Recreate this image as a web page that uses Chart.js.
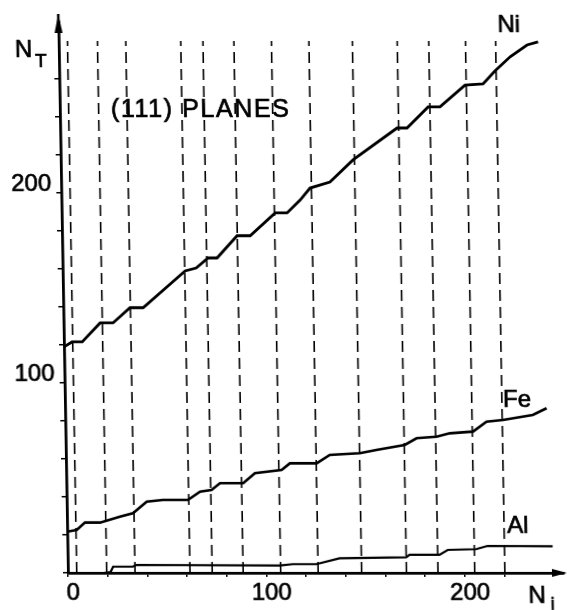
<!DOCTYPE html>
<html>
<head>
<meta charset="utf-8">
<script src="https://cdn.jsdelivr.net/npm/chart.js@4.4.0/dist/chart.umd.min.js"></script>
<style>
  html, body { margin: 0; padding: 0; background: #fff; }
  /* the scanned figure leans slightly: its verticals tilt about 1 degree */
  #wrap { position: relative; width: 567px; height: 610px; transform: skewX(1deg); transform-origin: 68px 573px; }
</style>
</head>
<body>
<div id="wrap"><canvas id="planesChart"></canvas></div>
<script>
// N_T against N_i, (111) planes
const planes = [4.4, 19.5, 33.8, 61.5, 72.7, 88.3, 107.2, 126.1, 148, 170.6, 186.5, 205, 220.2];
const planeTop = 280;

const niX = [0, 4.1, 9.2, 18.4, 24.9, 33.6, 40.2, 61.7, 67.3, 73.4, 77.9, 88.2, 94.8, 107.6, 113.6, 120.3, 125.4, 135.5, 147.3, 169.8, 174.8, 185.6, 191.6, 204.4, 213.5, 219.6, 227.4, 236, 241.6];
const niY = [119, 121.6, 121.6, 131.6, 131.6, 139.6, 139.6, 159, 160.5, 165.8, 165.8, 177.5, 177.5, 189.5, 189.5, 196.3, 202.6, 205.8, 217.4, 234.2, 234.2, 245.3, 245.3, 256.8, 257.4, 264.2, 271.7, 277.9, 279.5];

const feX = [0, 4.8, 9.0, 16.6, 26.7, 33.3, 40.3, 48.5, 61.1, 67.3, 73.1, 77.4, 89.1, 95.1, 108.6, 112.8, 126.3, 133, 148.2, 156.6, 170.9, 176.9, 187, 193.7, 205.4, 212.3, 220.7, 235.7, 242.7];
const feY = [21.7, 22.6, 26.5, 26.5, 29.6, 31.4, 37.5, 38.4, 38.4, 42.8, 43.7, 47.2, 47.2, 52.5, 54.2, 57.7, 57.7, 62.1, 63, 64.7, 67.4, 70.9, 71.7, 73.5, 74.4, 79.6, 80.5, 83.2, 86.7];

const alX = [18, 21.5, 22.8, 32.7, 34.6, 106.8, 113.4, 125.3, 137, 170.6, 172.3, 187.4, 191.6, 205.9, 211.7, 244.5];
const alY = [0, 0.5, 3.3, 3.3, 4.2, 3.9, 4.6, 4.6, 7.7, 8.2, 9.5, 9.5, 12.1, 12.5, 14.2, 14];

const xTickLabels = [0, 100, 200];
const yTickLabels = [100, 200];

function pts(xs, ys) { return xs.map((x, i) => ({ x: x, y: ys[i] })); }

const planeLines = [];
planes.forEach(p => planeLines.push({ x: p, y: 0 }, { x: p, y: planeTop }, { x: p, y: null }));

const curve = (data, w) => ({
  data: data, borderColor: '#000', borderWidth: w, pointRadius: 0, tension: 0, fill: false
});

// arrow heads and the hand-lettered labels of the figure
const figureLabels = {
  id: 'figureLabels',
  afterDraw(chart) {
    const { ctx, chartArea: a } = chart;
    ctx.save();
    ctx.fillStyle = '#000';
    ctx.strokeStyle = '#000';
    ctx.lineWidth = 2.5;
    ctx.beginPath(); ctx.moveTo(a.left, a.top + 1); ctx.lineTo(a.left, a.top - 8); ctx.stroke();
    ctx.beginPath(); ctx.moveTo(a.left, a.top - 8); ctx.lineTo(a.left - 4, a.top + 11); ctx.lineTo(a.left + 4, a.top + 11); ctx.closePath(); ctx.fill();
    ctx.beginPath(); ctx.moveTo(a.right + 3, a.bottom); ctx.lineTo(a.right - 12, a.bottom - 4); ctx.lineTo(a.right - 12, a.bottom + 4); ctx.closePath(); ctx.fill();

    const put = (txt, x, y) => { ctx.fillText(txt, x, y); ctx.strokeText(txt, x, y); };
    ctx.lineWidth = 0.7;
    ctx.textBaseline = 'alphabetic';
    ctx.textAlign = 'left';
    ctx.font = '24px "Liberation Sans"';
    put('N', 24, 57);
    put('Ni', 507, 32);
    put('Fe', 506, 407);
    put('Al', 508, 533);
    put('N', 528, 603);
    ctx.font = '19px "Liberation Sans"';
    put('T', 44, 67);
    put('i', 550, 610);
    ctx.font = '25px "Liberation Sans"';
    ctx.letterSpacing = '1.6px';
    put('(111) PLANES', 119, 117);
    ctx.restore();
  }
};

const onlySteps = scale => { scale.ticks = scale.ticks.filter(t => t.value % 20 === 0); };

new Chart(document.getElementById('planesChart'), {
  type: 'line',
  data: {
    datasets: [
      curve(pts(niX, niY), 2.8),
      curve(pts(feX, feY), 2.6),
      curve(pts(alX, alY), 2.2),
      { data: planeLines, borderColor: '#000', borderWidth: 1.6, borderDash: [11, 6], pointRadius: 0, spanGaps: false }
    ]
  },
  options: {
    responsive: true,
    maintainAspectRatio: false,
    animation: false,
    layout: { padding: { top: 22, right: 3, left: 0, bottom: 0 } },
    plugins: { legend: { display: false }, tooltip: { enabled: false } },
    scales: {
      x: {
        type: 'linear', min: 0, max: 250,
        afterFit: s => { s.height = 37; },
        afterBuildTicks: onlySteps,
        border: { display: true, color: '#000', width: 2.8 },
        grid: { drawOnChartArea: false, drawTicks: true, tickLength: 4, color: '#000', lineWidth: 1.5 },
        ticks: {
          stepSize: 20, autoSkip: false, maxRotation: 0, padding: 2, labelOffset: 5, color: '#000',
          textStrokeColor: '#000', textStrokeWidth: 0.7,
          font: { family: 'Liberation Sans', size: 24 },
          callback: v => xTickLabels.includes(v) ? String(v) : ''
        }
      },
      y: {
        type: 'linear', min: 0, max: 290,
        afterFit: s => { s.width = 68; },
        afterBuildTicks: onlySteps,
        border: { display: true, color: '#000', width: 2.8 },
        grid: { drawOnChartArea: false, drawTicks: true, tickLength: 5, color: '#000', lineWidth: 1.5 },
        ticks: {
          stepSize: 20, autoSkip: false, padding: 5, labelOffset: -9, color: '#000',
          textStrokeColor: '#000', textStrokeWidth: 0.7,
          font: { family: 'Liberation Sans', size: 24 },
          callback: v => yTickLabels.includes(v) ? String(v) : ''
        }
      }
    }
  },
  plugins: [figureLabels]
});
</script>
</body>
</html>
